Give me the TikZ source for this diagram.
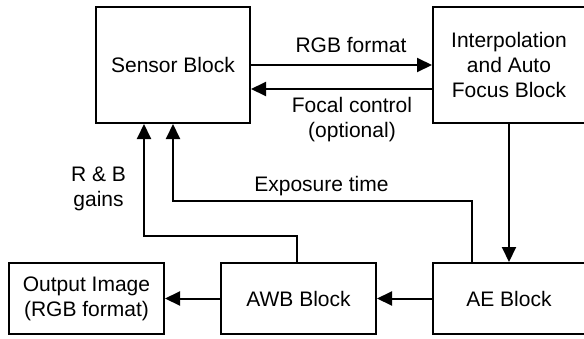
\documentclass[tikz,border=0pt]{standalone}
\usepackage{fontspec}
\setmainfont{Liberation Sans}
\usetikzlibrary{arrows.meta,calc}
\begin{document}
\begin{tikzpicture}[x=1pt,y=-1pt,
  every node/.style={font=\fontsize{21}{25}\selectfont, align=center, inner sep=0pt},
  blk/.style={draw, line width=2pt},
  conn/.style={line width=2pt},
  arr/.style={line width=2pt, -{Triangle[length=15pt,width=14pt]}}]
\useasboundingbox (0,0) rectangle (584,338);
\node[blk, minimum width=154pt, minimum height=116pt] (sensor) at (173,65) {Sensor Block};
\node[blk, minimum width=152pt, minimum height=116pt] (interp) at (509,65) {Interpolation\\and Auto\\Focus Block};
\node[blk, minimum width=152pt, minimum height=71pt] (ae) at (509,298.5) {AE Block};
\node[blk, minimum width=155pt, minimum height=71pt] (awb) at (298.5,298.5) {AWB Block};
\node[blk, minimum width=155pt, minimum height=71pt] (out) at (86.5,298.5) {Output Image\\(RGB format)};
\draw[arr] (sensor) -- (interp);
\draw[arr] ([yshift=-24pt]interp.west) -- ([yshift=-24pt]sensor.east);
\draw[arr] (interp) -- (ae);
\draw[arr] (ae) -- (awb);
\draw[arr] (awb) -- (out);
\draw[arr] ([xshift=-1.5pt]awb.north) -- ++(0,-26) -| ([xshift=-29pt]sensor.south);
\draw[arr] ([xshift=-37pt]ae.north) -- ++(0,-61) -| (sensor.south);
\node[anchor=base] (lrgb) at (351,52) {RGB format};
\node (lfocal) at (352,120) {Focal control\\(optional)};
\node (lrb) at (98.5,189) {R \& B\\gains};
\node[anchor=base] (lexp) at (321.5,191) {Exposure time};
\end{tikzpicture}
\end{document}
